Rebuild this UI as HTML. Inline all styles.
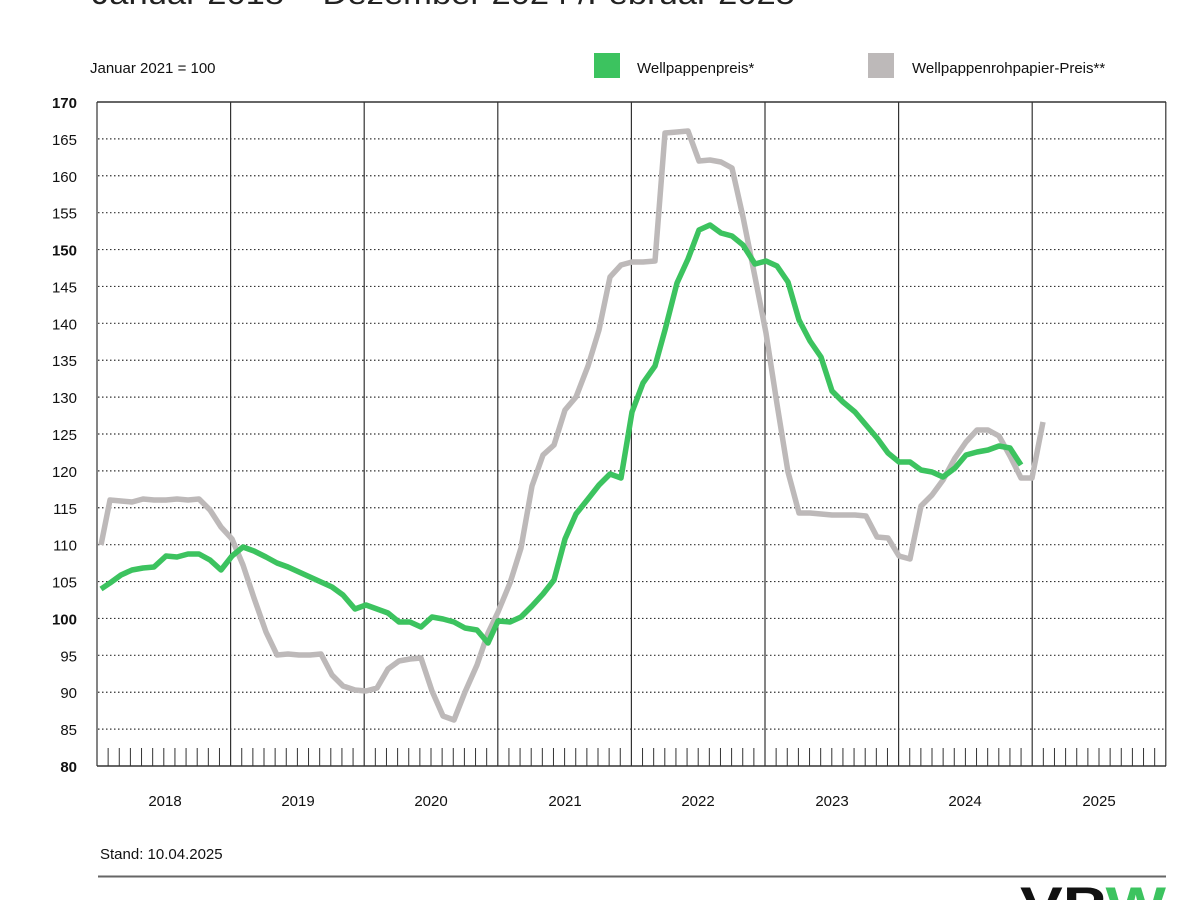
<!DOCTYPE html>
<html><head><meta charset="utf-8"><style>
body{margin:0;background:#fff;}
svg{display:block;font-family:"Liberation Sans",sans-serif;}
</style></head><body>
<svg width="1200" height="900" viewBox="0 0 1200 900">
<text x="92" y="4" font-size="30" fill="#222" textLength="703" lengthAdjust="spacingAndGlyphs">Januar 2018 – Dezember 2024 /Februar 2025</text>
<text x="90" y="73" font-size="15" fill="#111">Januar 2021 = 100</text>
<rect x="594" y="53" width="26" height="25" fill="#3cc35f"/>
<text x="637" y="73" font-size="15" fill="#111">Wellpappenpreis*</text>
<rect x="868" y="53" width="26" height="25" fill="#bdb9b9"/>
<text x="912" y="73" font-size="15" fill="#111">Wellpappenrohpapier-Preis**</text>
<g id="grid"></g>
<g font-size="15" fill="#111" text-anchor="end" id="ylab"></g>
<g font-size="15" fill="#111" text-anchor="middle">
<text x="165" y="806">2018</text><text x="298" y="806">2019</text><text x="431" y="806">2020</text><text x="565" y="806">2021</text><text x="698" y="806">2022</text><text x="832" y="806">2023</text><text x="965" y="806">2024</text><text x="1099" y="806">2025</text>
</g>
<text x="100" y="859" font-size="15" fill="#111">Stand: 10.04.2025</text>
<line x1="98" y1="876.5" x2="1166" y2="876.5" stroke="#666" stroke-width="2"/>
<text x="1020" y="922" font-size="50" font-weight="bold" fill="#111" textLength="146" lengthAdjust="spacingAndGlyphs">VP<tspan fill="#3cc35f">W</tspan></text>
<polyline fill="none" stroke="#bdb9b9" stroke-width="5.5" stroke-linejoin="round" points="101,545 110,500 121,501 132,502 143,499 154,500 166,500 177,499 188,500 199,499 210,510 221,527 232,539 243,565 254,598 266,632 277,655 288,654 299,655 310,655 321,654 332,675 343,686 355,690 366,691 377,688 388,669 399,661 410,659 421,658 432,691 443,716 454,720 465,692 477,665 488,633 498,612 510,583 521,548 532,486 543,455 554,445 565,410 576,397 588,366 599,330 610,277 621,265 632,262 643,262 655,261 665,133 677,132 688,131 699,161 710,160 721,162 732,168 743,217 755,277 766,333 777,404 788,472 799,513 810,513 821,514 832,515 843,515 855,515 866,516 877,537 888,538 899,556 910,559 921,506 932,495 943,480 955,458 966,442 977,430 988,430 999,436 1010,456 1021,478 1032,478 1043,422"/>
<polyline fill="none" stroke="#3cc35f" stroke-width="5.5" stroke-linejoin="round" points="101,589 110,583 121,575 132,570 143,568 154,567 166,556 177,557 188,554 199,554 210,560 221,570 232,556 243,547 254,551 266,557 277,563 288,567 299,572 310,577 321,582 332,587 343,595 355,609 366,605 377,609 388,613 399,622 410,622 421,627 432,617 443,619 454,622 465,628 477,630 488,643 498,621 510,622 521,617 532,606 543,594 554,580 565,539 576,514 588,499 599,485 610,474 621,478 632,412 643,383 655,366 665,330 677,283 688,259 699,230 710,225 721,233 732,236 743,245 755,264 766,261 777,266 788,282 799,320 810,341 821,357 832,391 843,402 855,412 866,425 877,438 888,453 899,462 910,462 921,470 932,472 943,477 955,468 966,455 977,452 988,450 999,446 1010,448 1021,465"/>
</svg>
<script>
var ns="http://www.w3.org/2000/svg",g=document.getElementById("grid"),yl=document.getElementById("ylab");
function el(t,a,p){var e=document.createElementNS(ns,t);for(var k in a)e.setAttribute(k,a[k]);p.appendChild(e);return e;}
for(var v=80;v<=170;v+=5){var y=766-(v-80)*664/90;
 if(v>80&&v<170)el("line",{x1:98,x2:1166,y1:y,y2:y,stroke:"#333","stroke-width":1.2,"stroke-dasharray":"1.5,2.5"},g);
 var t=el("text",{x:77,y:y+6},yl);t.textContent=v;if(v==80||v==100||v==150||v==170)t.setAttribute("font-weight","bold");}
el("line",{x1:97,x2:1166,y1:102,y2:102,stroke:"#333","stroke-width":1.5},g);
el("line",{x1:97,x2:1166,y1:766,y2:766,stroke:"#333","stroke-width":1.5},g);
for(var i=0;i<=8;i++){var x=97+i*133.6;el("line",{x1:x,x2:x,y1:102,y2:766,stroke:"#333","stroke-width":1.2},g);}
for(var m=1;m<96;m++){if(m%12==0)continue;var x=97+m*133.6/12;el("line",{x1:x,x2:x,y1:748,y2:766,stroke:"#333","stroke-width":1},g);}
</script>
</body></html>
